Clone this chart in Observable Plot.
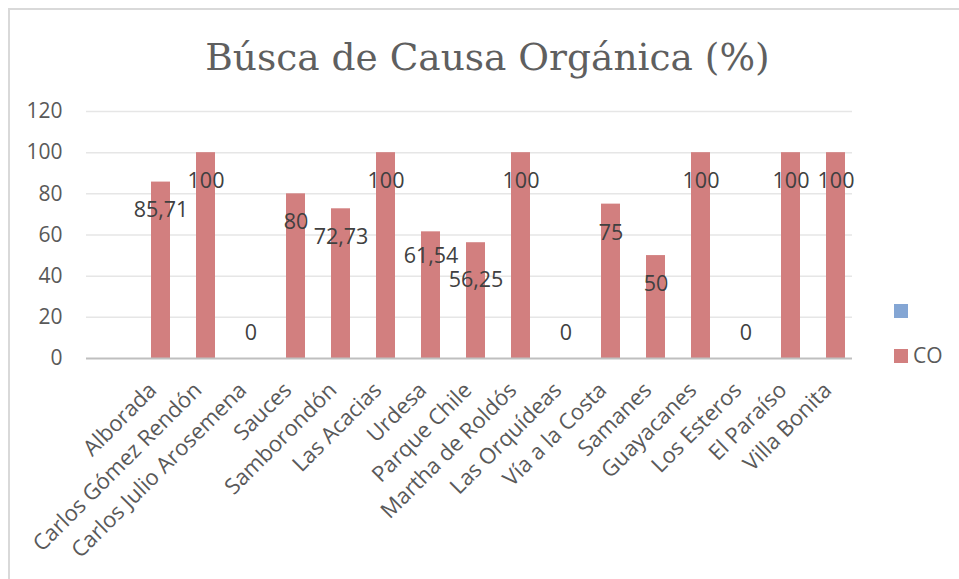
<!DOCTYPE html>
<html><head><meta charset="utf-8">
<script src="https://cdn.jsdelivr.net/npm/d3@7"></script>
<script src="https://cdn.jsdelivr.net/npm/@observablehq/plot@0.6"></script>
<style>
body{margin:0;background:#fff;}
#wrap{position:relative;width:959px;height:579px;overflow:hidden;font-family:"Open Sans",sans-serif;}
#frame{position:absolute;left:8px;top:8px;width:1000px;height:1000px;border-left:2px solid #d9d9d9;border-top:2px solid #d9d9d9;}
#chart{position:absolute;left:0;top:0;}
#title{position:absolute;left:0;top:38px;width:975px;text-align:center;font-family:"DejaVu Serif",serif;font-size:37.5px;line-height:38px;color:#5f5f5f;white-space:nowrap;}
.sw{position:absolute;width:14px;height:14px;}
.lt{position:absolute;font-size:21px;line-height:21px;color:#595959;}
</style></head>
<body>
<div id="wrap">
  <div id="frame"></div>
  <div id="chart"></div>
  <div id="title"></div>
  <div id="legend"></div>
</div>
<script>
const title = "Búsca de Causa Orgánica (%)";
const categories = ["Alborada","Carlos Gómez Rendón","Carlos Julio Arosemena","Sauces","Samborondón","Las Acacias","Urdesa","Parque Chile","Martha de Roldós","Las Orquídeas","Vía a la Costa","Samanes","Guayacanes","Los Esteros","El Paraíso","Villa Bonita"];
const coValues = [85.71,100,0,80,72.73,100,61.54,56.25,100,0,75,50,100,0,100,100];
const valueLabels = ["85,71","100","0","80","72,73","100","61,54","56,25","100","0","75","50","100","0","100","100"];
const yTicks = [0,20,40,60,80,100,120];
const seriesNames = ["", "CO"];
const seriesColors = ["#84A6D4", "#D27F7F"];

const data = categories.map((c,i)=>({cat:c, v:coValues[i], label:valueLabels[i]}));
// labels that the original chart nudged apart to avoid collisions
const nudgedUp = ["Urdesa"], nudgedDown = ["Parque Chile"];
const plain = data.filter(d=>d.v>0 && !nudgedUp.includes(d.cat) && !nudgedDown.includes(d.cat));

const labelStyle = {x:"cat", y:"v", text:"label", dx:6, fontSize:21.5, fill:"#404040"};

const chart = Plot.plot({
  width:959, height:579,
  marginLeft:86, marginRight:107, marginTop:111, marginBottom:221,
  style:{fontFamily:"'Open Sans', sans-serif", color:"#595959", background:"transparent"},
  x:{domain:["", ...categories], padding:0, axis:null},
  y:{domain:[0,120], axis:null},
  marks:[
    Plot.ruleY(yTicks.filter(t=>t>0), {stroke:"#e6e6e6", strokeWidth:1.5}),
    Plot.barY(data, {x:"cat", y:"v", fill:seriesColors[1], insetLeft:19, insetRight:7}),
    Plot.ruleY([0], {stroke:"#bfbfbf", strokeWidth:2}),
    Plot.axisY({ticks:yTicks, tickSize:0, tickPadding:24, fontSize:21, fill:"#595959", label:null}),
    Plot.text(plain, {...labelStyle, dy:28.5}),
    Plot.text(data.filter(d=>nudgedUp.includes(d.cat)), {...labelStyle, dy:24}),
    Plot.text(data.filter(d=>nudgedDown.includes(d.cat)), {...labelStyle, dy:37}),
    Plot.text(data.filter(d=>d.v===0), {...labelStyle, dy:-25}),
    Plot.text(categories, {x:d=>d, frameAnchor:"bottom", text:d=>d, rotate:-45, textAnchor:"end", dx:3, dy:33, fontSize:22, fill:"#595959"})
  ]
});
document.getElementById("chart").appendChild(chart);
document.getElementById("title").textContent = title;

const legend = document.getElementById("legend");
seriesNames.forEach((name,i)=>{
  const top = 304 + i*45;
  const sw = document.createElement("div");
  sw.className = "sw";
  sw.style.left = "894px"; sw.style.top = top + "px"; sw.style.background = seriesColors[i];
  legend.appendChild(sw);
  if (name) {
    const t = document.createElement("div");
    t.className = "lt";
    t.style.left = "913px"; t.style.top = (top - 4) + "px";
    t.textContent = name;
    legend.appendChild(t);
  }
});
</script>
</body></html>
